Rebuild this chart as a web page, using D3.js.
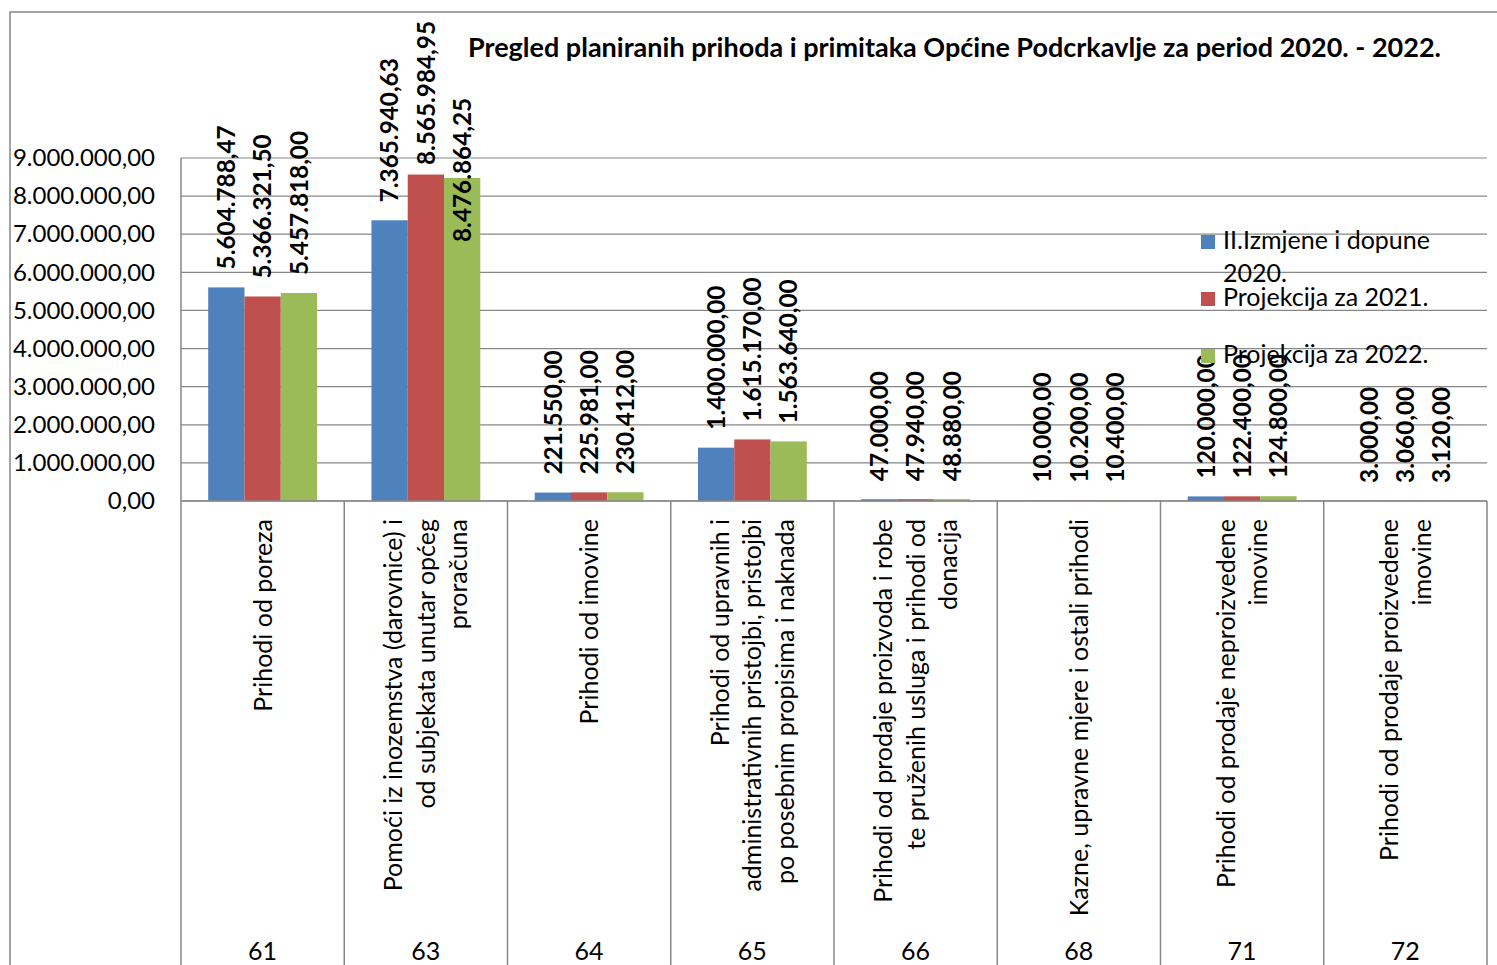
<!DOCTYPE html>
<html>
<head>
  <meta charset="utf-8">
  <title>Pregled prihoda</title>
  <script src="https://d3js.org/d3.v7.min.js"></script>
  <style>
    body { margin: 0; background: #fff; }
    text { font-family: Lato, "Open Sans", sans-serif; fill: #000; }
  </style>
</head>
<body>
  <svg width="1497" height="965" id="mainsvg"></svg>
  <script>
    // data
    const categories = ['61', '63', '64', '65', '66', '68', '71', '72'];
    const categoryNames = [
      ['Prihodi od poreza'],
      ['Pomoći iz inozemstva (darovnice) i', 'od subjekata unutar općeg', 'proračuna'],
      ['Prihodi od imovine'],
      ['Prihodi od upravnih i', 'administrativnih pristojbi, pristojbi', 'po posebnim propisima i naknada'],
      ['Prihodi od prodaje proizvoda i robe', 'te pruženih usluga i prihodi od', 'donacija'],
      ['Kazne, upravne mjere i ostali prihodi'],
      ['Prihodi od prodaje neproizvedene', 'imovine'],
      ['Prihodi od prodaje proizvedene', 'imovine']
    ];
    const values2020 = [5604788.47, 7365940.63, 221550.00, 1400000.00, 47000.00, 10000.00, 120000.00, 3000.00];
    const values2021 = [5366321.50, 8565984.95, 225981.00, 1615170.00, 47940.00, 10200.00, 122400.00, 3060.00];
    const values2022 = [5457818.00, 8476864.25, 230412.00, 1563640.00, 48880.00, 10400.00, 124800.00, 3120.00];
    const seriesNames = [['II.Izmjene i dopune', '2020.'], ['Projekcija za 2021.'], ['Projekcija za 2022.']];
    const seriesColors = ['#4f81bd', '#c0504d', '#9bbb59'];
    const yTickValues = [0, 1000000, 2000000, 3000000, 4000000, 5000000, 6000000, 7000000, 8000000, 9000000];
    const title = 'Pregled planiranih prihoda i primitaka Općine Podcrkavlje za period 2020. - 2022.';

    const series = [values2020, values2021, values2022];

    const svg = d3.select('#mainsvg');
    const width = +svg.attr('width');
    const height = +svg.attr('height');
    const plot = { left: 181, right: 1487, top: 158, bottom: 501 };
    const gridColor = '#878787';
    const textSize = 25;

    const hr = d3.formatLocale({ decimal: ',', thousands: '.', grouping: [3], currency: ['', ''] });
    const fmt = hr.format(',.2f');

    const x = d3.scaleBand().domain(categories).range([plot.left, plot.right]);
    const xs = d3.scaleBand().domain([0, 1, 2]).range([0, x.bandwidth()])
      .paddingInner(0).paddingOuter(0.75);
    const y = d3.scaleLinear().domain([0, 9000000]).range([plot.bottom, plot.top]);

    // outer chart frame
    svg.append('path')
      .attr('d', `M10,${height} V12 H${width}`)
      .attr('fill', 'none').attr('stroke', gridColor).attr('stroke-width', 1.5);

    // gridlines
    svg.append('g').selectAll('line').data(yTickValues).join('line')
      .attr('x1', plot.left).attr('x2', plot.right)
      .attr('y1', d => y(d)).attr('y2', d => y(d))
      .attr('stroke', gridColor).attr('stroke-width', 1.2);

    // y axis labels
    const yAxis = d3.axisLeft(y).tickValues(yTickValues).tickFormat(fmt).tickSize(0).tickPadding(26);
    const yg = svg.append('g').attr('transform', `translate(${plot.left},0)`).call(yAxis);
    yg.select('.domain').remove();
    yg.selectAll('text').attr('font-size', 24).attr('font-family', 'Lato').attr('fill', '#000');

    // category boundaries, running down to the bottom edge
    const bounds = categories.map(c => x(c)).concat([plot.right]);
    svg.append('g').selectAll('line').data(bounds).join('line')
      .attr('x1', d => d).attr('x2', d => d)
      .attr('y1', (d, i) => i === 0 ? plot.top : plot.bottom).attr('y2', height)
      .attr('stroke', gridColor).attr('stroke-width', 1.5);

    // bars
    const bars = svg.append('g');
    series.forEach((vals, s) => {
      bars.selectAll(null).data(vals).join('rect')
        .attr('x', (d, i) => x(categories[i]) + xs(s))
        .attr('width', xs.bandwidth())
        .attr('y', d => y(d))
        .attr('height', d => y(0) - y(d))
        .attr('fill', seriesColors[s]);
    });

    // category axis line
    svg.append('line')
      .attr('x1', plot.left).attr('x2', plot.right)
      .attr('y1', plot.bottom).attr('y2', plot.bottom)
      .attr('stroke', gridColor).attr('stroke-width', 1.5);

    // title
    const titleText = svg.append('text')
      .attr('x', 468).attr('y', 57)
      .attr('font-size', 27).attr('font-weight', 'bold')
      .text(title);
    const tb = titleText.node().getBBox();

    // data labels, rotated, above the bars
    const labels = svg.append('g');
    series.forEach((vals, s) => {
      vals.forEach((v, i) => {
        const cx = x(categories[i]) + xs(s) + xs.bandwidth() / 2;
        const t = labels.append('text')
          .attr('font-size', 24.3).attr('font-weight', 'bold')
          .attr('text-anchor', 'start')
          .attr('dy', '0.36em')
          .text(fmt(v));
        const len = t.node().getComputedTextLength();
        let start = y(v) - 18;
        if (start - len < 21) start = 21 + len;
        // keep clear of the title: centre the label on the bar end instead
        if (cx + 9 > tb.x && start - len < tb.y + tb.height) start = y(v) + len / 2 - 8;
        t.attr('transform', `translate(${cx},${start}) rotate(-90)`);
      });
    });

    // category names, rotated, hanging from the axis
    const linePitch = 32.5;
    const catG = svg.append('g');
    categoryNames.forEach((lines, i) => {
      const cx = x(categories[i]) + x.bandwidth() / 2;
      lines.forEach((ln, j) => {
        const off = (j - (lines.length - 1) / 2) * linePitch;
        catG.append('text')
          .attr('transform', `translate(${cx + off},519) rotate(-90)`)
          .attr('text-anchor', 'end')
          .attr('dy', '0.36em')
          .attr('font-size', textSize)
          .text(ln);
      });
    });

    // category codes
    svg.append('g').selectAll('text').data(categories).join('text')
      .attr('x', d => x(d) + x.bandwidth() / 2)
      .attr('y', 960)
      .attr('text-anchor', 'middle')
      .attr('font-size', textSize)
      .text(d => d);

    // legend (drawn last, on top of the labels)
    const legend = svg.append('g');
    const legendRowH = 57;
    seriesNames.forEach((lines, s) => {
      const base = 249 + s * legendRowH;
      legend.append('rect')
        .attr('x', 1201).attr('y', base - 14)
        .attr('width', 14).attr('height', 14)
        .attr('fill', seriesColors[s]);
      lines.forEach((ln, j) => {
        legend.append('text')
          .attr('x', 1223).attr('y', base + j * 33)
          .attr('font-size', textSize)
          .text(ln);
      });
    });
  </script>
</body>
</html>
